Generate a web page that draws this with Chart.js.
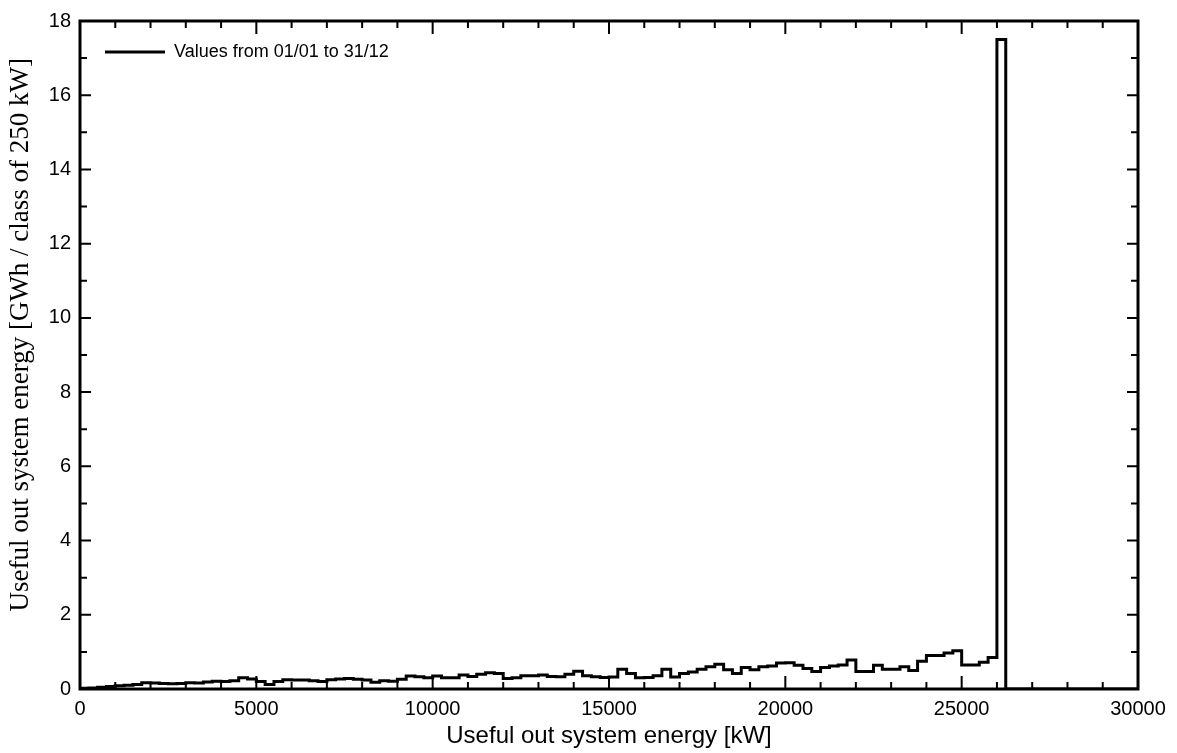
<!DOCTYPE html>
<html>
<head>
<meta charset="utf-8">
<script src="https://cdn.jsdelivr.net/npm/chart.js@4"></script>
<style>
  body { margin: 0; background: #fff; }
  #wrap { width: 1177px; height: 753px; }
</style>
</head>
<body>
<div id="wrap"><canvas id="energy-chart"></canvas></div>
<script>
// histogram classes of 250 kW, starting at 0 kW
const binWidth = 250;
const xMax = 30000;
const seriesLabel = 'Values from 01/01 to 31/12';
const energyGWh = [
    0.02, 0.03, 0.05, 0.07, 0.09, 0.10, 0.12, 0.17, 0.16, 0.15,
    0.14, 0.15, 0.17, 0.16, 0.19, 0.21, 0.20, 0.22, 0.30, 0.27,
    0.20, 0.12, 0.20, 0.25, 0.24, 0.24, 0.22, 0.20, 0.25, 0.27,
    0.28, 0.26, 0.24, 0.18, 0.22, 0.21, 0.26, 0.35, 0.33, 0.30,
    0.35, 0.30, 0.30, 0.38, 0.34, 0.40, 0.44, 0.42, 0.28, 0.30,
    0.36, 0.36, 0.38, 0.34, 0.33, 0.40, 0.48, 0.36, 0.33, 0.31,
    0.32, 0.53, 0.42, 0.30, 0.31, 0.36, 0.53, 0.32, 0.42, 0.46,
    0.53, 0.60, 0.67, 0.52, 0.42, 0.58, 0.52, 0.60, 0.62, 0.70,
    0.71, 0.64, 0.55, 0.47, 0.58, 0.62, 0.65, 0.78, 0.47, 0.47,
    0.64, 0.53, 0.53, 0.60, 0.50, 0.75, 0.90, 0.90, 0.97, 1.03,
    0.65, 0.65, 0.72, 0.85, 17.5
];

// step points at class starts, then close the last class back to 0
const points = energyGWh.map((v, i) => ({ x: i * binWidth, y: v }));
points.push({ x: energyGWh.length * binWidth, y: 0 });
points.push({ x: xMax, y: 0 });

Chart.defaults.font.family = "'Liberation Sans', Arial, sans-serif";
Chart.defaults.color = '#000';

// frame and inward ticks on all four sides
const frameTicks = {
    id: 'frameTicks',
    afterDatasetsDraw(chart) {
        const { ctx, chartArea: a, scales: { x, y } } = chart;
        ctx.save();
        ctx.strokeStyle = '#000';
        ctx.lineWidth = 2;
        ctx.beginPath();
        for (let v = 0; v <= xMax; v += 1000) {
            const px = x.getPixelForValue(v);
            const len = v % 5000 === 0 ? 13 : 7;
            ctx.moveTo(px, a.bottom); ctx.lineTo(px, a.bottom - len);
            ctx.moveTo(px, a.top); ctx.lineTo(px, a.top + len);
        }
        for (let v = 0; v <= 18; v += 1) {
            const py = y.getPixelForValue(v);
            const len = v % 2 === 0 ? 11 : 7;
            ctx.moveTo(a.left, py); ctx.lineTo(a.left + len, py);
            ctx.moveTo(a.right, py); ctx.lineTo(a.right - len, py);
        }
        ctx.stroke();
        ctx.lineWidth = 3;
        ctx.strokeRect(a.left, a.top, a.right - a.left, a.bottom - a.top);
        ctx.restore();
    }
};

var chart = new Chart(document.getElementById('energy-chart'), {
    type: 'line',
    data: {
        datasets: [{
            label: seriesLabel,
            data: points,
            stepped: 'before',
            borderColor: '#000',
            backgroundColor: '#000',
            borderWidth: 3,
            pointRadius: 0,
            fill: false
        }]
    },
    options: {
        responsive: true,
        maintainAspectRatio: false,
        animation: false,
        layout: { padding: { top: 14, right: 39, left: 0, bottom: 0 } },
        plugins: {
            tooltip: { enabled: false },
            legend: {
                position: 'chartArea',
                align: 'start',
                // empty title only pushes the entry down inside the frame
                title: { display: true, text: '', padding: 0, font: { size: 15 } },
                labels: {
                    usePointStyle: true,
                    pointStyle: 'line',
                    pointStyleWidth: 60,
                    padding: 25,
                    color: '#000',
                    font: { size: 18 }
                }
            }
        },
        scales: {
            x: {
                type: 'linear',
                min: 0,
                max: xMax,
                grid: { display: false, drawTicks: false },
                border: { display: false },
                ticks: {
                    stepSize: 5000,
                    maxRotation: 0,
                    padding: 8,
                    font: { size: 20 },
                    callback: (v) => String(v)
                },
                title: {
                    display: true,
                    text: 'Useful out system energy [kW]',
                    font: { size: 24 },
                    padding: { top: 0, bottom: 2 }
                },
                afterFit: (s) => { s.height = 64; }
            },
            y: {
                min: 0,
                max: 18,
                grid: { display: false, drawTicks: false },
                border: { display: false },
                ticks: { stepSize: 2, padding: 9, font: { size: 20 } },
                title: {
                    display: true,
                    // leading spaces nudge the centred title up, as in the original
                    text: '      Useful out system energy [GWh / class of 250 kW]',
                    font: { family: "'Liberation Serif', 'Times New Roman', serif", size: 27 },
                    padding: { top: 5, bottom: 0 }
                },
                afterFit: (s) => { s.width = 80; }
            }
        }
    },
    plugins: [frameTicks]
});
</script>
</body>
</html>
